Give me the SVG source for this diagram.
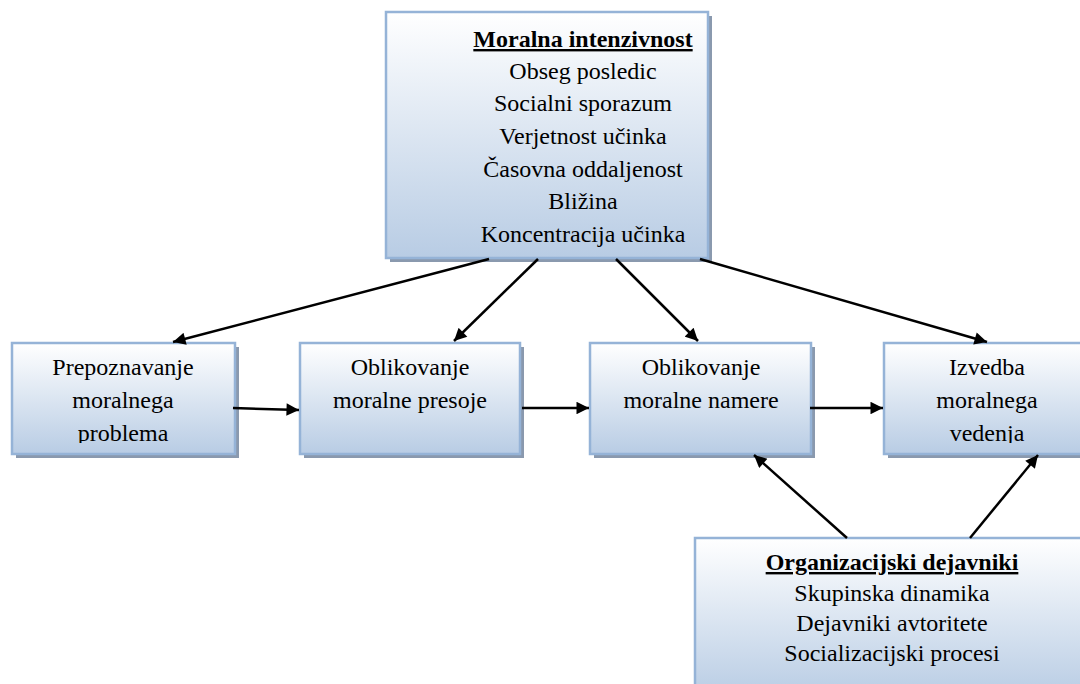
<svg xmlns="http://www.w3.org/2000/svg" width="1080" height="684" viewBox="0 0 1080 684">
<defs>
<linearGradient id="g" x1="0" y1="0" x2="0" y2="1">
<stop offset="0" stop-color="#ffffff"/>
<stop offset="1" stop-color="#b8cce4"/>
</linearGradient>
<marker id="ah" viewBox="0 0 10 10" refX="10" refY="5" markerWidth="5.5" markerHeight="5" markerUnits="strokeWidth" orient="auto">
<path d="M0,0 L10,5 L0,10 z" fill="#000"/>
</marker>
<clipPath id="c1"><rect x="12" y="343" width="223" height="100"/></clipPath>
<clipPath id="c4"><rect x="884" y="343" width="210" height="100"/></clipPath>
</defs>
<style>
.sh{fill:#8a99ae}
.bx{fill:url(#g);stroke:#95b3d7;stroke-width:2.5}
text{font-family:'Liberation Serif','Times New Roman',serif;font-size:24px;fill:#000;text-anchor:middle}
.t{font-weight:bold;text-decoration:underline}
.cn line{stroke:#000;stroke-width:2.5;marker-end:url(#ah)}
</style>
<rect width="1080" height="684" fill="#fff"/>
<g id="moralna">
<rect class="sh" x="390" y="16" width="322" height="246"/>
<rect class="bx" x="386" y="12" width="322" height="246"/>
<text class="t" x="583" y="47">Moralna intenzivnost</text>
<text x="583" y="79">Obseg posledic</text>
<text x="583" y="111">Socialni sporazum</text>
<text x="583" y="144">Verjetnost učinka</text>
<text x="583" y="177">Časovna oddaljenost</text>
<text x="583" y="209">Bližina</text>
<text x="583" y="242">Koncentracija učinka</text>
</g>
<g id="prepoznavanje">
<rect class="sh" x="16" y="347" width="223" height="111"/>
<rect class="bx" x="12" y="343" width="223" height="111"/>
<g clip-path="url(#c1)">
<text x="123" y="375">Prepoznavanje</text>
<text x="123" y="408">moralnega</text>
<text x="123" y="441">problema</text>
</g>
</g>
<g id="presoja">
<rect class="sh" x="304" y="347" width="220" height="111"/>
<rect class="bx" x="300" y="343" width="220" height="111"/>
<text x="410" y="375">Oblikovanje</text>
<text x="410" y="408">moralne presoje</text>
</g>
<g id="namera">
<rect class="sh" x="594" y="347" width="221" height="111"/>
<rect class="bx" x="590" y="343" width="221" height="111"/>
<text x="701" y="375">Oblikovanje</text>
<text x="701" y="408">moralne namere</text>
</g>
<g id="izvedba">
<rect class="sh" x="888" y="347" width="210" height="111"/>
<rect class="bx" x="884" y="343" width="210" height="111"/>
<g clip-path="url(#c4)">
<text x="987" y="375">Izvedba</text>
<text x="987" y="408">moralnega</text>
<text x="987" y="441">vedenja</text>
</g>
</g>
<g id="organizacijski">
<rect class="sh" x="699" y="542" width="400" height="160"/>
<rect class="bx" x="695" y="538" width="400" height="160"/>
<text class="t" x="892" y="570">Organizacijski dejavniki</text>
<text x="892" y="601">Skupinska dinamika</text>
<text x="892" y="631">Dejavniki avtoritete</text>
<text x="892" y="661">Socializacijski procesi</text>
</g>
<g id="connectors" class="cn">
<line x1="489" y1="259" x2="173" y2="342"/>
<line x1="538" y1="259" x2="454" y2="341"/>
<line x1="616" y1="259" x2="698" y2="341"/>
<line x1="700" y1="259" x2="987" y2="342"/>
<line x1="233" y1="408" x2="299" y2="410"/>
<line x1="522" y1="408" x2="589" y2="408"/>
<line x1="810" y1="408" x2="883" y2="408"/>
<line x1="847" y1="538" x2="754" y2="455"/>
<line x1="970" y1="538" x2="1038" y2="455"/>
</g>
</svg>
